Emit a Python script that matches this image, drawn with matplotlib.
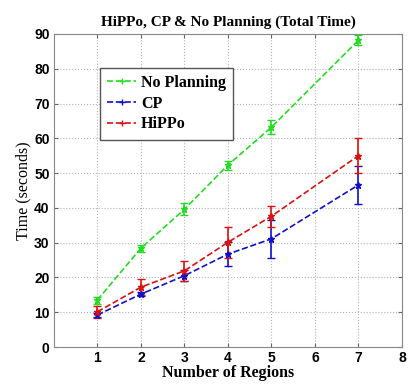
import numpy as np
import matplotlib
matplotlib.use("Agg")
import matplotlib.pyplot as plt
from matplotlib.lines import Line2D

# veriler
regions = [1, 2, 3, 4, 5, 7]

no_plan = [13.5, 28.4, 39.6, 52.3, 63.2, 88.2]
no_plan_err = [1.0, 1.0, 1.7, 1.3, 2.0, 1.5]

cp = [9.2, 15.2, 20.5, 26.7, 31.1, 46.6]
cp_err = [0.5, 0.6, 1.5, 3.4, 5.5, 5.4]

hippo = [10.1, 17.2, 21.9, 30.1, 37.6, 55.0]
hippo_err = [1.7, 2.3, 2.9, 4.5, 3.0, 5.1]

xticks = [1, 2, 3, 4, 5, 6, 7, 8]
yticks = [0, 10, 20, 30, 40, 50, 60, 70, 80, 90]

serif = ["Liberation Serif", "DejaVu Serif"]
sans = ["Liberation Sans", "DejaVu Sans"]

fig = plt.figure(figsize=(4.11, 3.85), dpi=100)
ax = fig.add_axes([0.131, 0.0987, 0.847, 0.813])

series = [
    ("No Planning", no_plan, no_plan_err, "#22dd22"),
    ("CP", cp, cp_err, "#1010cc"),
    ("HiPPo", hippo, hippo_err, "#dd1010"),
]
handles = []
for name, y, e, c in series:
    ax.errorbar(regions, y, yerr=e, color=c, ls="--", lw=1.2,
                marker="*", ms=5, capsize=3, elinewidth=1.2)
    handles.append(Line2D([], [], color=c, ls="--", lw=1.2, marker="+",
                          ms=5, label=name))

ax.set_xlim(0, 8)
ax.set_ylim(0, 90)
ax.set_xticks(xticks)
ax.set_yticks(yticks)
for lbl in ax.get_xticklabels() + ax.get_yticklabels():
    lbl.set_family(sans)
    lbl.set_fontweight("bold")
    lbl.set_fontsize(10)

ax.tick_params(direction="in", length=3, top=True, right=True, colors="#666666",
               labelcolor="black", pad=3)
ax.grid(True, ls=":", color="#b5b5b5", lw=0.8)
for s in ax.spines.values():
    s.set_color("#888888")

ax.set_title("HiPPo, CP & No Planning (Total Time)", family=serif,
             fontweight="bold", fontsize=11, pad=6)
ax.set_xlabel("Number of Regions", family=serif, fontweight="bold", fontsize=11.5, labelpad=0)
ax.set_ylabel("Time (seconds)", family=serif, fontsize=11.5, labelpad=2)

leg = ax.legend(handles=handles, loc="upper left", bbox_to_anchor=(0.11, 0.918),
                prop={"family": serif, "weight": "bold", "size": 11.5},
                handlelength=1.8, handletextpad=0.3, borderpad=0.45,
                labelspacing=0.3, fancybox=False, framealpha=1)
leg.get_frame().set_edgecolor("#555555")

fig.savefig("out.png", dpi=100)
